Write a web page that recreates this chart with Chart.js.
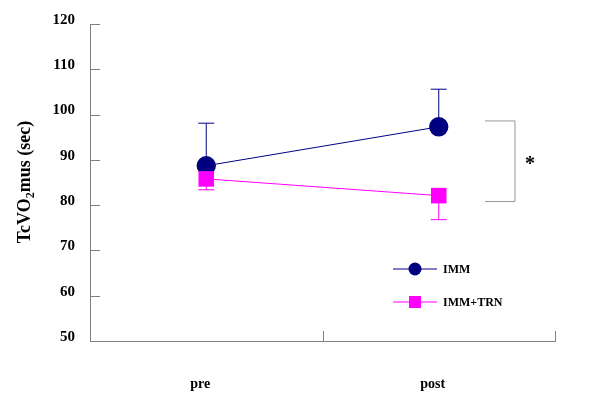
<!DOCTYPE html>
<html>
<head>
<meta charset="utf-8">
<script src="https://cdn.jsdelivr.net/npm/chart.js@4/dist/chart.umd.min.js"></script>
<style>
  html, body { margin: 0; background: #fff; }
  #wrap { width: 600px; height: 415px; }
</style>
</head>
<body>
<div id="wrap"><canvas id="chart"></canvas></div>
<script>
// data
const visits = ['pre', 'post'];
const immMean = [88.7, 97.3];
const immErr = [9.4, 8.3];      // drawn upward
const trnMean = [85.8, 82.1];
const trnErr = [2.4, 5.3];      // drawn downward
const yTicks = [50, 60, 70, 80, 90, 100, 110, 120];
const sigRange = [98.6, 80.8];  // bracket ends at "post"

const NAVY = '#000080';
const PINK = '#ff00ff';
const AXIS = '#808080';
const SERIF = '"Liberation Serif", "Times New Roman", serif';

// error bars, ticks, bracket, legend and y title
const extras = {
    id: 'extras',
    beforeDatasetsDraw(chart) {
        const ctx = chart.ctx;
        const xs = chart.scales.x, ys = chart.scales.y;
        const drawErr = (means, errs, dir, color) => {
            ctx.save();
            ctx.strokeStyle = color;
            ctx.lineWidth = 1;
            means.forEach((m, i) => {
                const x = xs.getPixelForValue(i);
                const y0 = ys.getPixelForValue(m);
                const y1 = ys.getPixelForValue(m + dir * errs[i]);
                ctx.beginPath();
                ctx.moveTo(x, y0);
                ctx.lineTo(x, y1);
                ctx.moveTo(x - 8, y1);
                ctx.lineTo(x + 8, y1);
                ctx.stroke();
            });
            ctx.restore();
        };
        drawErr(immMean, immErr, 1, NAVY);
        drawErr(trnMean, trnErr, -1, PINK);
    },
    afterDraw(chart) {
        const ctx = chart.ctx;
        const area = chart.chartArea;
        const xs = chart.scales.x, ys = chart.scales.y;

        ctx.save();
        ctx.strokeStyle = AXIS;
        ctx.lineWidth = 1;
        // inward ticks on y axis
        yTicks.forEach(v => {
            const y = Math.round(ys.getPixelForValue(v)) + 0.5;
            ctx.beginPath();
            ctx.moveTo(area.left, y);
            ctx.lineTo(area.left + 10, y);
            ctx.stroke();
        });
        // category boundary ticks on x axis
        const mid = (xs.getPixelForValue(0) + xs.getPixelForValue(1)) / 2;
        [mid, area.right].forEach(x => {
            const px = Math.round(x) + 0.5;
            ctx.beginPath();
            ctx.moveTo(px, area.bottom);
            ctx.lineTo(px, area.bottom - 10);
            ctx.stroke();
        });

        // significance bracket
        const bx = area.right - 70;
        const yA = ys.getPixelForValue(sigRange[0]);
        const yB = ys.getPixelForValue(sigRange[1]);
        ctx.strokeStyle = '#999';
        ctx.beginPath();
        ctx.moveTo(bx, yA);
        ctx.lineTo(bx + 30, yA);
        ctx.lineTo(bx + 30, yB);
        ctx.lineTo(bx, yB);
        ctx.stroke();
        ctx.fillStyle = '#000';
        ctx.font = 'bold 20px ' + SERIF;
        ctx.textAlign = 'center';
        ctx.textBaseline = 'alphabetic';
        ctx.fillText('*', bx + 45, (yA + yB) / 2 + 9);

        // legend
        const lx = 393, ly = [269, 302];
        chart.data.datasets.forEach((ds, i) => {
            const y = ly[i];
            ctx.strokeStyle = ds.borderColor;
            ctx.lineWidth = 1;
            ctx.beginPath();
            ctx.moveTo(lx, y);
            ctx.lineTo(lx + 44, y);
            ctx.stroke();
            ctx.fillStyle = ds.backgroundColor;
            if (ds.pointStyle === 'rect') {
                ctx.fillRect(lx + 16, y - 6, 12, 12);
            } else {
                ctx.beginPath();
                ctx.arc(lx + 22, y, 6.5, 0, Math.PI * 2);
                ctx.fill();
            }
            ctx.fillStyle = '#000';
            ctx.font = 'bold 12px ' + SERIF;
            ctx.textAlign = 'left';
            ctx.textBaseline = 'middle';
            ctx.fillText(ds.label, lx + 50, y + 1);
        });

        // y axis title with subscript
        ctx.translate(25, 182);
        ctx.rotate(-Math.PI / 2);
        ctx.fillStyle = '#000';
        ctx.textBaseline = 'middle';
        ctx.textAlign = 'left';
        const big = 'bold 18px ' + SERIF, small = 'bold 12px ' + SERIF;
        ctx.font = big;
        const w1 = ctx.measureText('TcVO').width;
        const w3 = ctx.measureText('mus (sec)').width;
        ctx.font = small;
        const w2 = ctx.measureText('2').width;
        let x = -(w1 + w2 + w3) / 2;
        ctx.font = big;
        ctx.fillText('TcVO', x, 0);
        x += w1;
        ctx.font = small;
        ctx.fillText('2', x, 6);
        x += w2;
        ctx.font = big;
        ctx.fillText('mus (sec)', x, 0);
        ctx.restore();
    }
};

new Chart(document.getElementById('chart'), {
    type: 'line',
    data: {
        labels: visits,
        datasets: [
            {
                label: 'IMM',
                data: immMean,
                borderColor: NAVY,
                backgroundColor: NAVY,
                borderWidth: 1,
                pointStyle: 'circle',
                pointRadius: 9.7,
                pointBorderWidth: 0,
                order: 1
            },
            {
                label: 'IMM+TRN',
                data: trnMean,
                borderColor: PINK,
                backgroundColor: PINK,
                borderWidth: 1,
                pointStyle: 'rect',
                pointRadius: 11,
                pointBorderWidth: 0,
                order: 0
            }
        ]
    },
    options: {
        responsive: true,
        maintainAspectRatio: false,
        animation: false,
        layout: { padding: { top: 23, right: 45, left: 0, bottom: 0 } },
        plugins: {
            legend: { display: false },
            tooltip: { enabled: false }
        },
        scales: {
            x: {
                type: 'category',
                offset: true,
                grid: { display: false },
                border: { display: true, color: AXIS, width: 1 },
                ticks: {
                    color: '#000',
                    font: { family: SERIF, size: 14, weight: 'bold' },
                    padding: 27,
                    labelOffset: -6
                },
                afterFit(scale) { scale.height = 74; }
            },
            y: {
                min: 50,
                max: 120,
                grid: { display: false, drawTicks: false },
                border: { display: true, color: AXIS, width: 1 },
                ticks: {
                    stepSize: 10,
                    color: '#000',
                    font: { family: SERIF, size: 15, weight: 'bold' },
                    padding: 15,
                    labelOffset: -4
                },
                afterFit(scale) { scale.width = 90; }
            }
        }
    },
    plugins: [extras]
});
</script>
</body>
</html>
